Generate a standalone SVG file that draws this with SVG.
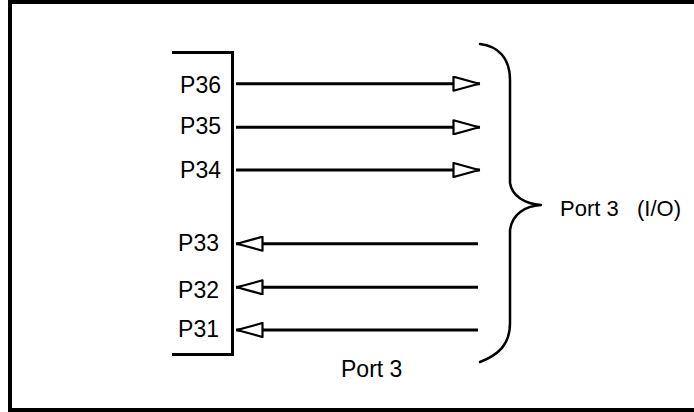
<svg xmlns="http://www.w3.org/2000/svg" width="694" height="412" viewBox="0 0 694 412">
  <style>
    .lbl { font-family: "Liberation Sans", Arial, sans-serif; font-size: 23px; fill: #000; }
    .lbl-r { font-family: "Liberation Sans", Arial, sans-serif; font-size: 22px; fill: #000; }
    .conn { stroke: #000; stroke-width: 3; fill: none; marker-end: url(#open-arrow); }
    .box { stroke: #000; stroke-width: 3; fill: none; }
    .brace { stroke: #000; stroke-width: 2.5; fill: none; stroke-linecap: round; stroke-linejoin: round; }
  </style>
  <defs>
    <marker id="open-arrow" viewBox="0 0 29 16" refX="28" refY="8" markerWidth="29" markerHeight="16" markerUnits="userSpaceOnUse" orient="auto">
      <path d="M1.5,1 L27,8 L1.5,15 Z" fill="#fff" stroke="#000" stroke-width="2.2" stroke-linejoin="round"/>
    </marker>
  </defs>
  <rect x="0" y="0" width="694" height="412" fill="#fff"/>
  <g id="frame">
    <rect x="10" y="2" width="690" height="408" fill="none" stroke="#000" stroke-width="4"/>
  </g>
  <g id="port-box">
    <path class="box" d="M172,52.5 L232.5,52.5 L232.5,354.5 L172,354.5"/>
    <text class="lbl" x="221" y="93" text-anchor="end">P36</text>
    <text class="lbl" x="221" y="133.5" text-anchor="end">P35</text>
    <text class="lbl" x="221" y="177.5" text-anchor="end">P34</text>
    <text class="lbl" x="219" y="250.5" text-anchor="end">P33</text>
    <text class="lbl" x="219" y="298" text-anchor="end">P32</text>
    <text class="lbl" x="219" y="337" text-anchor="end">P31</text>
  </g>
  <g id="port3-label">
    <text class="lbl" x="341" y="377">Port 3</text>
  </g>
  <g id="brace">
    <path class="brace" d="M480,44 C498,46 510,58 510,80 L510,183 C512,196 525,204 541,205 C525,206 512,214 510,230 L510,323 C510,345 498,355 480,362"/>
  </g>
  <g id="port3-io-label">
    <text class="lbl-r" y="216"><tspan x="560">Port 3</tspan><tspan x="637">(I/O)</tspan></text>
  </g>
  <g id="connectors">
    <path class="conn" d="M236,83.7 L480,83.7"/>
    <path class="conn" d="M236,127.3 L480,127.3"/>
    <path class="conn" d="M236,170 L480,170"/>
    <path class="conn" d="M478,243.7 L236,243.7"/>
    <path class="conn" d="M478,287.3 L236,287.3"/>
    <path class="conn" d="M478,330 L236,330"/>
  </g>
</svg>
